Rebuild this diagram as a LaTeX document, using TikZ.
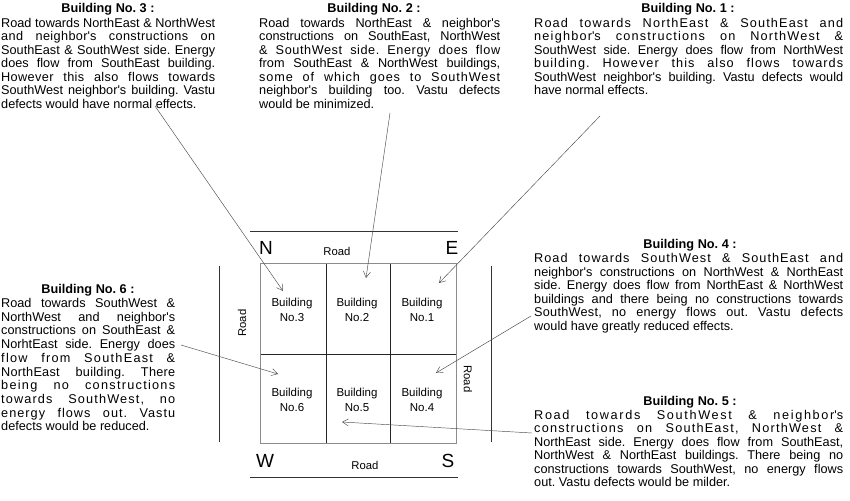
\documentclass[tikz,border=0pt]{standalone}
\usepackage{fontspec}
\setmainfont{Liberation Sans}
\usetikzlibrary{arrows.meta}
\newdimen\blkw
\newcommand{\jline}[1]{\hbox to \blkw{#1}}
\newcommand{\sline}[2]{\hbox to \blkw{\addfontfeature{LetterSpace=#1}#2}}
\newcommand{\lline}[1]{\hbox{#1}}
\newcommand{\apo}{\textquotesingle}
\frenchspacing
\begin{document}
\begin{tikzpicture}[x=1pt,y=-1pt,
  txt/.style={inner sep=0pt, anchor=base west, font=\fontsize{12.7}{13.5}\selectfont},
  ttl/.style={inner sep=0pt, anchor=base, font=\fontsize{12.7}{13.5}\selectfont\bfseries},
  lbl/.style={align=center, inner sep=0pt, font=\fontsize{11.5}{15.5}\selectfont},
  dirl/.style={inner sep=0pt, font=\fontsize{19}{19}\selectfont},
  roadl/.style={inner sep=0pt, font=\fontsize{11.3}{12}\selectfont},
  roadline/.style={draw=black!80, line width=0.6pt},
  arr/.style={draw=black!70, line width=0.45pt, -{Straight Barb[length=6pt,width=7pt]}}
]
\useasboundingbox (0,0) rectangle (850,500);
\fill[white] (0,0) rectangle (850,500);

% roads
\draw[roadline] (250,231) -- (458,231);
\draw[roadline] (250,477) -- (458,477);
\draw[roadline] (219,266) -- (219,442);
\draw[roadline] (491,266) -- (491,442);

% grid
\draw[black!85, line width=0.6pt] (326,263) -- (326,443) (390,263) -- (390,443) (260,354) -- (456,354);
\draw[black!45, line width=0.8pt] (260,263) rectangle (456,443);

% grid labels
\node[lbl] (b3) at (292,310) {Building\\No.3};
\node[lbl] (b2) at (357,310) {Building\\No.2};
\node[lbl] (b1) at (422,310) {Building\\No.1};
\node[lbl] (b6) at (292,400) {Building\\No.6};
\node[lbl] (b5) at (357,400) {Building\\No.5};
\node[lbl] (b4) at (422,400) {Building\\No.4};

\node[dirl] (dN) at (266,248) {N};
\node[dirl] (dE) at (452,248) {E};
\node[dirl] (dW) at (265,461) {W};
\node[dirl] (dS) at (448,461) {S};

\node[roadl] (rN) at (337,251) {Road};
\node[roadl] (rS) at (365,465) {Road};
\node[roadl, rotate=90] (rW) at (242,323) {Road};
\node[roadl, rotate=-90] (rE) at (468,379) {Road};

% Building 3
\node[ttl] (h3) at (108,13) {Building No. 3 :};
\node[txt] (t3) at (1,27.5) {\blkw=214pt\vtop{\baselineskip=13.5pt
\jline{Road towards NorthEast \& NorthWest}
\sline{3}{and neighbor\apo s constructions on}
\jline{SouthEast \& SouthWest side. Energy}
\jline{does flow from SouthEast building.}
\sline{3}{However this also flows towards}
\jline{SouthWest neighbor\apo s building. Vastu}
\lline{defects would have normal effects.}}};

% Building 2
\node[ttl] (h2) at (374,13) {Building No. 2 :};
\node[txt] (t2) at (259,27.5) {\blkw=241pt\vtop{\baselineskip=13.5pt
\jline{Road towards NorthEast \& neighbor\apo s}
\jline{constructions on SouthEast, NorthWest}
\sline{4.5}{\& SouthWest side. Energy does flow}
\jline{from SouthEast \& NorthWest buildings,}
\sline{7}{some of which goes to SouthWest}
\jline{neighbor\apo s building too. Vastu defects}
\lline{would be minimized.}}};

% Building 1
\node[ttl] (h1) at (688,13) {Building No. 1 :};
\node[txt] (t1) at (534,27.5) {\blkw=309pt\vtop{\baselineskip=13.5pt
\sline{9}{Road towards NorthEast \& SouthEast and}
\sline{9.5}{neighbor\apo s constructions on NorthWest \&}
\jline{SouthWest side. Energy does flow from NorthWest}
\sline{8}{building. However this also flows towards}
\jline{SouthWest neighbor\apo s building. Vastu defects would}
\lline{have normal effects.}}};

% Building 4
\node[ttl] (h4) at (690,248) {Building No. 4 :};
\node[txt] (t4) at (534,262.5) {\blkw=309pt\vtop{\baselineskip=13.5pt
\sline{8}{Road towards SouthWest \& SouthEast and}
\jline{neighbor\apo s constructions on NorthWest \& NorthEast}
\jline{side. Energy does flow from NorthEast \& NorthWest}
\jline{buildings and there being no constructions towards}
\sline{2}{SouthWest, no energy flows out. Vastu defects}
\lline{would have greatly reduced effects.}}};

% Building 6
\node[ttl] (h6) at (88,293) {Building No. 6 :};
\node[txt] (t6) at (1,307.5) {\blkw=174pt\vtop{\baselineskip=13.7pt
\jline{Road towards SouthWest \&}
\jline{NorthWest and neighbor\apo s}
\jline{constructions on SouthEast \&}
\jline{NorhtEast side. Energy does}
\sline{10}{flow from SouthEast \&}
\sline{2}{NorthEast building. There}
\sline{10}{being no constructions}
\sline{9}{towards SouthWest, no}
\sline{8}{energy flows out. Vastu}
\lline{defects would be reduced.}}};

% Building 5
\node[ttl] (h5) at (690,405) {Building No. 5 :};
\node[txt] (t5) at (534,419) {\blkw=309pt\vtop{\baselineskip=13.5pt
\sline{13}{Road towards SouthWest \& neighbor\apo s}
\sline{9.5}{constructions on SouthEast, NorthWest \&}
\jline{NorthEast side. Energy does flow from SouthEast,}
\jline{NorthWest \& NorthEast buildings. There being no}
\jline{constructions towards SouthWest, no energy flows}
\lline{out. Vastu defects would be milder.}}};

% connector ends
\coordinate (s3) at (155,106);
\coordinate (e3) at (283,291);
\coordinate (s2) at (390,113);
\coordinate (e2) at (366,278);
\coordinate (s1) at (600,116);
\coordinate (e1) at (439,283);
\coordinate (s4) at (531,316);
\coordinate (e4) at (436,373);
\coordinate (s6) at (181,345);
\coordinate (e6) at (278,374);
\coordinate (s5) at (532,433);
\coordinate (e5) at (342,422);

\draw[arr] (s3) -- (e3);
\draw[arr] (s2) -- (e2);
\draw[arr] (s1) -- (e1);
\draw[arr] (s4) -- (e4);
\draw[arr] (s6) -- (e6);
\draw[arr] (s5) -- (e5);
\end{tikzpicture}
\end{document}
